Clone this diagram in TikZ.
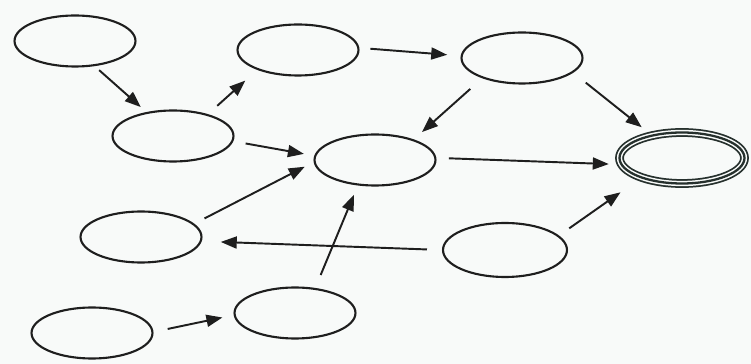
\documentclass[tikz,border=0pt]{standalone}
\usepackage{xcolor}
\usetikzlibrary{arrows.meta, shapes.geometric}
\definecolor{cbg}{HTML}{F8FAF9}
\definecolor{cline}{HTML}{1E1E1E}
\definecolor{cfin}{HTML}{26302D}

\begin{document}
\begin{tikzpicture}[
  x=0.02cm, y=-0.02cm,
  >={Triangle[length=3.2mm, width=2.4mm]},
  st/.style={draw=cline, ellipse, line width=1.2pt, inner sep=0pt,
             minimum width=2.42cm, minimum height=1.02cm},
  fin/.style={st, draw=cfin, line width=1.3pt, minimum width=2.5cm,
              preaction={draw=cbg, line width=3pt,
                         preaction={draw=cfin, line width=5pt}}},
  arr/.style={->, line width=1.1pt, draw=cline},
  ]
\fill[cbg] (0,0) rectangle (751,364);

\node[st] (s1) at (75,41) {};
\node[st] (s2) at (173,136) {};
\node[st] (s3) at (298,50) {};
\node[st] (s4) at (522,58) {};
\node[st] (s5) at (375,160) {};
\node[fin] (goal) at (682,158) {};
\node[st] (s6) at (141,237) {};
\node[st, minimum width=2.48cm, minimum height=1.08cm] (s7) at (505,250) {};
\node[st] (s8) at (92,333) {};
\node[st] (s9) at (295,313) {};

\draw[arr, shorten <=0.12cm, shorten >=0.15cm] (s1.-52) -- (s2.138);
\draw[arr, shorten <=0.25cm, shorten >=0.32cm] (s2.32) -- (s3.-154);
\draw[arr, shorten <=0.25cm, shorten >=0.21cm] (s2.-5) -- (s5.176);
\draw[arr, shorten <=0.23cm, shorten >=0.2cm] (s6.14) -- (s5.-178);
\draw[arr, shorten <=0.22cm, shorten >=0.27cm] (s3.2) -- (s4.178);
\draw[arr, shorten <=0.32cm, shorten >=0.22cm] (s4.-153) -- (s5.28);
\draw[arr, shorten <=0.32cm, shorten >=0.24cm] (s4.-16) -- (goal.143);
\draw[arr, shorten <=0.25cm, shorten >=0.23cm] (s5.2) -- (goal.-174);
\draw[arr, shorten <=0.25cm, shorten >=0.49cm] (s7.15) -- (goal.-154);
\draw[arr, shorten <=0.3cm, shorten >=0.38cm] (s7.180) -- (s6.-4);
\draw[arr, shorten <=0.28cm, shorten >=0.2cm] (s9.51) -- (s5.-124);
\draw[arr, shorten <=0.29cm, shorten >=0.23cm] (s8.1) -- (s9.182);
\end{tikzpicture}
\end{document}
